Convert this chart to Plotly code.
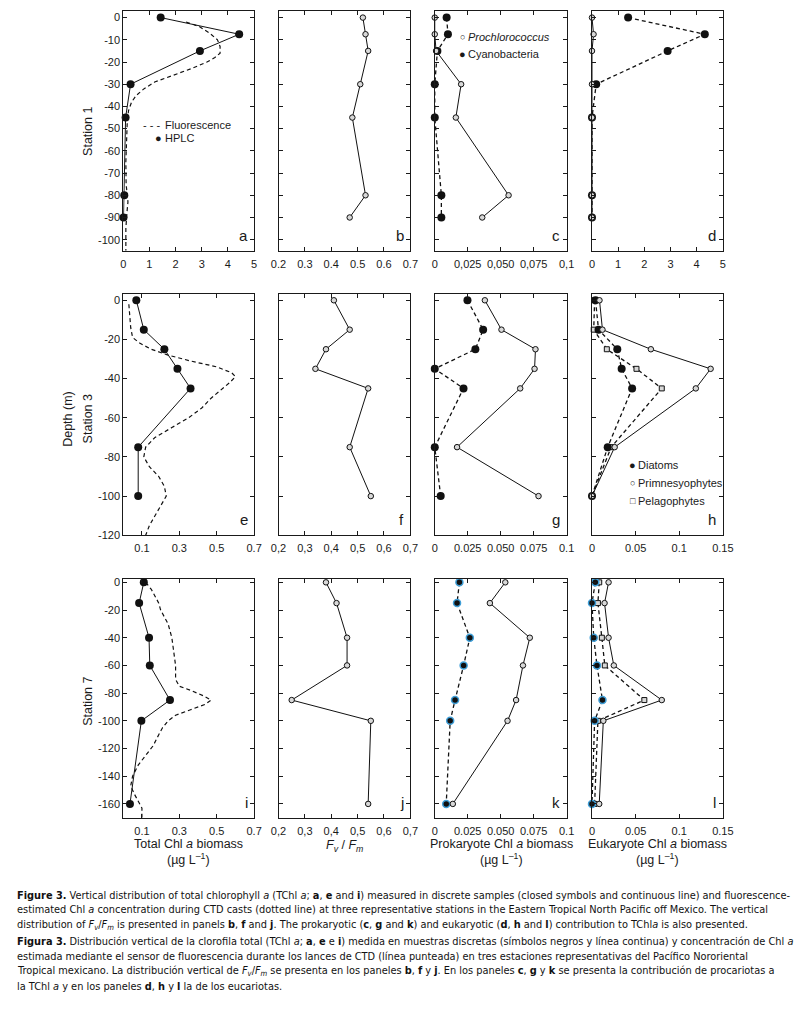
import plotly.graph_objects as go

# ---------------- DATA ----------------
# Station 1
st1_depth = [0, -7.5, -15, -30, -45, -80, -90]
st1_hplc = [1.43, 4.43, 2.93, 0.28, 0.09, 0.04, 0.01]
st1_fluo_depth = [-2, -4, -7, -10, -13, -16, -18, -20, -23, -26, -29, -32, -35, -38, -42, -48, -55, -65, -75, -80, -83, -88, -95, -105]
st1_fluo = [2.4, 2.9, 3.3, 3.6, 3.7, 3.7, 3.5, 3.2, 2.6, 1.9, 1.2, 0.8, 0.5, 0.32, 0.2, 0.15, 0.12, 0.1, 0.11, 0.16, 0.18, 0.14, 0.1, 0.1]
st1_fvfm = [0.52, 0.53, 0.54, 0.51, 0.48, 0.53, 0.47]
st1_pro = [0.0, 0.0, 0.001, 0.020, 0.016, 0.056, 0.036]
st1_cyano = [0.009, 0.010, 0.002, 0.0, 0.0, 0.005, 0.005]
st1_euk_filled = [1.38, 4.31, 2.89, 0.16, 0.0, 0.0, 0.0]
st1_euk_open = [0.0, 0.06, 0.0, 0.0, 0.0, 0.0, 0.0]

# Station 3
st3_depth = [0, -15, -25, -35, -45, -75, -100]
st3_hplc = [0.07, 0.11, 0.22, 0.29, 0.36, 0.08, 0.08]
st3_fluo_depth = [-2, -8, -14, -19, -22, -25, -28, -31, -34, -37, -39, -42, -46, -50, -55, -60, -65, -70, -75, -80, -85, -90, -95, -100, -105, -110, -115, -120]
st3_fluo = [0.03, 0.035, 0.04, 0.05, 0.09, 0.15, 0.24, 0.36, 0.5, 0.58, 0.6, 0.57, 0.52, 0.47, 0.42, 0.35, 0.26, 0.17, 0.12, 0.11, 0.14, 0.19, 0.22, 0.23, 0.2, 0.17, 0.14, 0.12]
st3_fvfm = [0.41, 0.47, 0.38, 0.34, 0.54, 0.47, 0.55]
st3_pro = [0.038, 0.0506, 0.0764, 0.0757, 0.0648, 0.0169, 0.0787]
st3_cyano = [0.0248, 0.0367, 0.0308, 0.0, 0.0218, 0.0, 0.0045]
st3_diatoms = [0.004, 0.0075, 0.029, 0.034, 0.046, 0.018, 0.0]
st3_prym = [0.0086, 0.012, 0.0675, 0.136, 0.119, 0.026, 0.0]
st3_pelago = [0.003, 0.002, 0.017, 0.051, 0.080, 0.022, 0.0]

# Station 7
st7_depth = [0, -15, -40, -60, -85, -100, -160]
st7_hplc = [0.11, 0.085, 0.138, 0.142, 0.25, 0.097, 0.036]
st7_fluo_depth = [0, -5, -10, -15, -20, -25, -30, -40, -50, -60, -70, -75, -78, -82, -85, -88, -92, -96, -100, -105, -110, -118, -125, -132, -140, -147, -153, -158, -163, -170]
st7_fluo = [0.12, 0.15, 0.17, 0.19, 0.2, 0.22, 0.24, 0.26, 0.27, 0.28, 0.28, 0.3, 0.36, 0.43, 0.47, 0.44, 0.36, 0.28, 0.24, 0.21, 0.19, 0.16, 0.12, 0.08, 0.05, 0.04, 0.06, 0.08, 0.1, 0.1]
st7_fvfm = [0.38, 0.42, 0.46, 0.46, 0.25, 0.55, 0.54]
st7_pro = [0.0535, 0.0418, 0.0721, 0.0669, 0.0617, 0.0552, 0.0137]
st7_cyano = [0.0187, 0.0169, 0.0266, 0.0219, 0.0154, 0.0117, 0.0087]
st7_diatoms = [0.0038, 0.0, 0.002, 0.0057, 0.012, 0.003, 0.0]
st7_prym = [0.019, 0.0144, 0.019, 0.025, 0.080, 0.013, 0.0083]
st7_pelago = [0.0083, 0.0068, 0.0113, 0.0147, 0.060, 0.0068, 0.003]

# Tick labels
ticks_tot1 = [0, 1, 2, 3, 4, 5]
ticks_tot = [0.1, 0.3, 0.5, 0.7]
ticks_fv = [0.2, 0.3, 0.4, 0.5, 0.6, 0.7]
ticks_fv_dot = ["0.2", "0.3", "0.4", "0.5", "0.6", "0.7"]
ticks_fv_comma = ["0,2", "0,3", "0,4", "0,5", "0,6", "0,7"]
ticks_pro = [0, 0.025, 0.05, 0.075, 0.1]
ticks_pro_comma = ["0", "0,025", "0,050", "0,075", "0,1"]
ticks_pro_dot = ["0", "0.025", "0.050", "0.075", "0.1"]
ticks_euk = [0, 0.05, 0.1, 0.15]
ticks_euk_txt = ["0", "0.05", "0.1", "0.15"]

# ---------------- LAYOUT GEOMETRY ----------------
W, H = 811, 1021
cols = [(118, 252), (277, 412), (437, 572), (598, 732)]
rows = [(8, 250), (294, 537), (581, 822)]
yranges = [[-105, 3], [-120, 3], [-170, 2.5]]
ydticks = [10, 20, 20]

FONT = "Liberation Sans, Arial, sans-serif"
NARROW = "DejaVu Sans Condensed, Liberation Sans Narrow, Arial Narrow, sans-serif"

fig = go.Figure()

def ax_id(r, c):
    return r * 4 + c + 1

def xname(n):
    return "x" if n == 1 else f"x{n}"

def yname(n):
    return "y" if n == 1 else f"y{n}"

def key(prefix, n):
    return prefix if n == 1 else f"{prefix}{n}"

xcfg = {
    (0, 0): dict(range=[0, 5], tickvals=ticks_tot1, ticktext=[str(v) for v in ticks_tot1]),
    (0, 1): dict(range=[0.2, 0.7], tickvals=ticks_fv, ticktext=ticks_fv_dot),
    (0, 2): dict(range=[0, 0.1], tickvals=ticks_pro, ticktext=ticks_pro_comma),
    (0, 3): dict(range=[0, 5], tickvals=ticks_tot1, ticktext=[str(v) for v in ticks_tot1]),
    (1, 0): dict(range=[0, 0.7], tickvals=ticks_tot, ticktext=[str(v) for v in ticks_tot]),
    (1, 1): dict(range=[0.2, 0.7], tickvals=ticks_fv, ticktext=ticks_fv_comma),
    (1, 2): dict(range=[0, 0.1], tickvals=ticks_pro, ticktext=ticks_pro_dot),
    (1, 3): dict(range=[0, 0.15], tickvals=ticks_euk, ticktext=ticks_euk_txt),
    (2, 0): dict(range=[0, 0.7], tickvals=ticks_tot, ticktext=[str(v) for v in ticks_tot]),
    (2, 1): dict(range=[0.2, 0.7], tickvals=ticks_fv, ticktext=ticks_fv_comma),
    (2, 2): dict(range=[0, 0.1], tickvals=ticks_pro, ticktext=ticks_pro_dot),
    (2, 3): dict(range=[0, 0.15], tickvals=ticks_euk, ticktext=ticks_euk_txt),
}

axis_common = dict(showline=True, linecolor="#1a1a1a", linewidth=1, mirror="ticks",
                   ticks="inside", ticklen=4, tickwidth=1, tickcolor="#1a1a1a",
                   showgrid=False, zeroline=False,
                   tickfont=dict(family=FONT, size=11, color="#1a1a1a"))

for r in range(3):
    for c in range(4):
        n = ax_id(r, c)
        x0, x1 = cols[c]
        y0, y1 = rows[r]
        xa = dict(axis_common)
        xa.update(xcfg[(r, c)])
        xa.update(domain=[x0 / W, x1 / W], anchor=yname(n), tickmode="array", ticklabelstandoff=3)
        ya = dict(axis_common)
        yt = list(range(0, int(yranges[r][0]) - 1, -ydticks[r]))
        ya.update(domain=[1 - y1 / H, 1 - y0 / H], anchor=xname(n), range=yranges[r],
                  tickmode="array", tickvals=yt, ticktext=[str(v) for v in yt],
                  showticklabels=(c == 0))
        fig.layout[key("xaxis", n)] = xa
        fig.layout[key("yaxis", n)] = ya

BLACK = "#111111"
BLUE = "#3f9fd8"
DOT = "4px,3px"

def line_pts(r, c, x, y, dash=None, marker=None, mode="lines+markers", width=1):
    n = ax_id(r, c)
    fig.add_trace(go.Scatter(x=x, y=y, mode=mode, xaxis=xname(n), yaxis=yname(n),
                             line=dict(color=BLACK, width=width, dash=dash) if dash else dict(color=BLACK, width=width),
                             marker=marker, cliponaxis=False, showlegend=False, hoverinfo="skip"))

filled = dict(symbol="circle", size=8, color=BLACK, line=dict(width=0))
filled_blue = dict(symbol="circle", size=7, color=BLACK, line=dict(width=1.5, color=BLUE))
opened = dict(symbol="circle", size=5.5, color="#d8d8d8", line=dict(width=1, color=BLACK))
square = dict(symbol="square", size=5, color="#d8d8d8", line=dict(width=1, color=BLACK))

# Row 1 - Station 1
line_pts(0, 0, st1_fluo, st1_fluo_depth, dash=DOT, mode="lines", width=1.2)
line_pts(0, 0, st1_hplc, st1_depth, marker=filled)
line_pts(0, 1, st1_fvfm, st1_depth, marker=opened)
line_pts(0, 2, st1_cyano, st1_depth, dash=DOT, marker=filled, width=1.3)
line_pts(0, 2, st1_pro, st1_depth, marker=opened)
line_pts(0, 3, st1_euk_filled, st1_depth, dash=DOT, marker=filled, width=1.3)
line_pts(0, 3, st1_euk_open, st1_depth, marker=opened)

# Row 2 - Station 3
line_pts(1, 0, st3_fluo, st3_fluo_depth, dash=DOT, mode="lines", width=1.2)
line_pts(1, 0, st3_hplc, st3_depth, marker=filled)
line_pts(1, 1, st3_fvfm, st3_depth, marker=opened)
line_pts(1, 2, st3_cyano, st3_depth, dash=DOT, marker=filled, width=1.3)
line_pts(1, 2, st3_pro, st3_depth, marker=opened)
line_pts(1, 3, st3_pelago, st3_depth, dash=DOT, marker=square, width=1.3)
line_pts(1, 3, st3_diatoms, st3_depth, dash=DOT, marker=filled, width=1.3)
line_pts(1, 3, st3_prym, st3_depth, marker=opened)

# Row 3 - Station 7
line_pts(2, 0, st7_fluo, st7_fluo_depth, dash=DOT, mode="lines", width=1.2)
line_pts(2, 0, st7_hplc, st7_depth, marker=filled)
line_pts(2, 1, st7_fvfm, st7_depth, marker=opened)
line_pts(2, 2, st7_cyano, st7_depth, dash=DOT, marker=filled_blue, width=1.3)
line_pts(2, 2, st7_pro, st7_depth, marker=opened)
line_pts(2, 3, st7_pelago, st7_depth, dash=DOT, marker=square, width=1.3)
line_pts(2, 3, st7_diatoms, st7_depth, dash=DOT, marker=filled_blue, width=1.3)
line_pts(2, 3, st7_prym, st7_depth, marker=opened)

ann = []

def txt(px, py, text, size=12, xanchor="center", yanchor="middle", angle=0, family=FONT, color="#1a1a1a"):
    ann.append(dict(x=px / W, y=1 - py / H, xref="paper", yref="paper", text=text, showarrow=False,
                    xanchor=xanchor, yanchor=yanchor, textangle=angle, borderpad=0,
                    font=dict(family=family, size=size, color=color)))

# panel letters
letters = ["a", "b", "c", "d", "e", "f", "g", "h", "i", "j", "k", "l"]
for r in range(3):
    for c in range(4):
        n = ax_id(r, c)
        ann.append(dict(x=0.965, y=0.02, xref=f"{xname(n)} domain", yref=f"{yname(n)} domain",
                        text=letters[n - 1], showarrow=False, xanchor="right", yanchor="bottom",
                        font=dict(family=FONT, size=15, color="#1a1a1a")))

# station / depth labels
txt(82, 130, "Station 1", size=12.5, angle=-90)
txt(82, 420, "Station 3", size=12.5, angle=-90)
txt(62, 420, "Depth (m)", size=12.5, angle=-90)
txt(82, 705, "Station 7", size=12.5, angle=-90)

# legends (text)
txt(137, 123, "- - -", size=11, xanchor="left")
txt(160, 123, "Fluorescence", size=11, xanchor="left")
txt(149, 136, "●", size=11, xanchor="left")
txt(160, 136, "HPLC", size=11, xanchor="left")

txt(462, 34, "○", size=9, xanchor="left")
txt(470, 34, "<i>Prochlorococcus</i>", size=11, xanchor="left")
txt(461, 51, "●", size=11, xanchor="left")
txt(470, 51, "Cyanobacteria", size=11, xanchor="left")

txt(635, 466, "●", size=11, xanchor="left")
txt(644, 466, "Diatoms", size=11, xanchor="left")
txt(636, 484, "○", size=9, xanchor="left")
txt(644, 484, "Primnesyophytes", size=11, xanchor="left")
txt(636, 502, "□", size=9, xanchor="left")
txt(644, 502, "Pelagophytes", size=11, xanchor="left")

# bottom axis titles
txt(185, 848, "Total Chl <i>a</i> biomass", size=12.5)
txt(185, 864, "(µg L<sup>–1</sup>)", size=12.5)
txt(345, 850, "<i>F</i><sub><i>v</i></sub> / <i>F</i><sub><i>m</i></sub>", size=12.5)
txt(505, 848, "Prokaryote Chl <i>a</i> biomass", size=12.5)
txt(505, 864, "(µg L<sup>–1</sup>)", size=12.5)
txt(665, 848, "Eukaryote Chl <i>a</i> biomass", size=12.5)
txt(665, 864, "(µg L<sup>–1</sup>)", size=12.5)

# caption
cap = [
    "<b>Figure 3.</b> Vertical distribution of total chlorophyll <i>a</i> (TChl <i>a</i>; <b>a</b>, <b>e</b> and <b>i</b>) measured in discrete samples (closed symbols and continuous line) and fluorescence-",
    "estimated Chl <i>a</i> concentration during CTD casts (dotted line) at three representative stations in the Eastern Tropical North Pacific off Mexico. The vertical",
    "distribution of <i>F<sub>v</sub></i>/<i>F<sub>m</sub></i> is presented in panels <b>b</b>, <b>f</b> and <b>j</b>. The prokaryotic (<b>c</b>, <b>g</b> and <b>k</b>) and eukaryotic (<b>d</b>, <b>h</b> and <b>l</b>) contribution to TChl<i>a</i> is also presented.",
    "<b>Figura 3.</b> Distribución vertical de la clorofila total (TChl <i>a</i>; <b>a</b>, <b>e</b> e <b>i</b>) medida en muestras discretas (símbolos negros y línea continua) y concentración de Chl <i>a</i>",
    "estimada mediante el sensor de fluorescencia durante los lances de CTD (línea punteada) en tres estaciones representativas del Pacífico Nororiental",
    "Tropical mexicano. La distribución vertical de <i>F<sub>v</sub></i>/<i>F<sub>m</sub></i> se presenta en los paneles <b>b</b>, <b>f</b> y <b>j</b>. En los paneles <b>c</b>, <b>g</b> y <b>k</b> se presenta la contribución de procariotas a",
    "la TChl <i>a</i> y en los paneles <b>d</b>, <b>h</b> y <b>l</b> la de los eucariotas.",
]
cap_y = [900, 915, 930, 947, 962, 977, 992]
for t, y in zip(cap, cap_y):
    txt(8, y, t, size=10.9, xanchor="left", family=NARROW, color="#111111")

fig.update_layout(width=W, height=H, margin=dict(l=0, r=0, t=0, b=0),
                  paper_bgcolor="white", plot_bgcolor="white", showlegend=False,
                  annotations=ann)

post = (
    "document.documentElement.style.margin='0';"
    "document.documentElement.style.overflow='hidden';"
    "document.body.style.margin='0';document.body.style.padding='0';"
    "document.body.style.overflow='hidden';"
    "var d=document.getElementsByClassName('plotly-graph-div')[0];"
    "d.style.position='absolute';d.style.left='0px';d.style.top='0px';"
)
fig.write_html("out.html", config={"displayModeBar": False, "staticPlot": True, "responsive": False},
               post_script=post)
